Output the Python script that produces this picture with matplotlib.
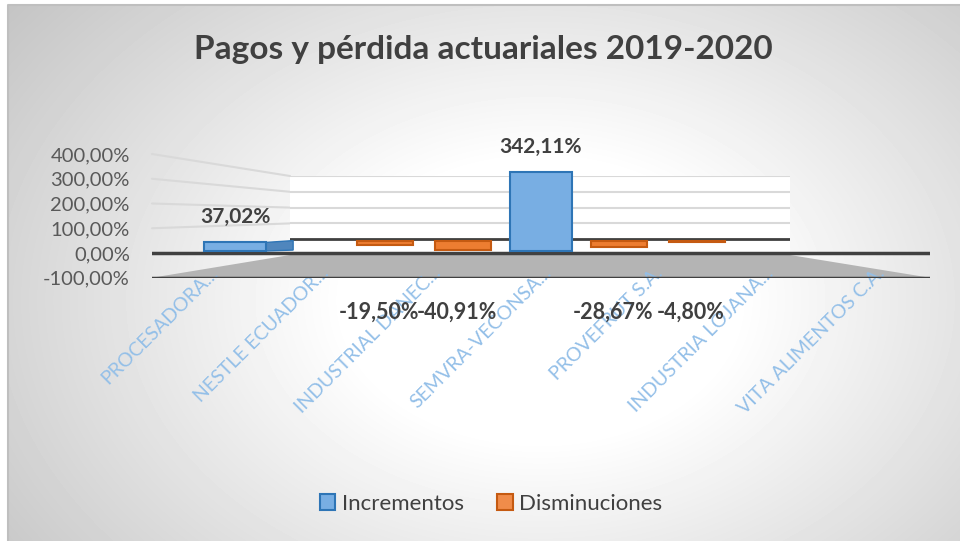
import numpy as np
import matplotlib
matplotlib.use("Agg")
import matplotlib.pyplot as plt
from matplotlib.patches import Patch, Polygon, ConnectionPatch

plt.rcParams["font.family"] = ["Lato", "DejaVu Sans"]

# datos
categorias = ["PROCESADORA...", "NESTLE ECUADOR...", "INDUSTRIAL DANEC...",
              "SEMVRA-VECONSA...", "PROVEFRUT S.A.", "INDUSTRIA LOJANA...",
              "VITA ALIMENTOS C.A."]
incrementos = [37.02, np.nan, np.nan, 342.11, np.nan, np.nan, np.nan]
disminuciones = [np.nan, -19.50, -40.91, np.nan, -28.67, -4.80, np.nan]
ticks_y = [-100, 0, 100, 200, 300, 400]

W, H = 960, 541
fig = plt.figure(figsize=(W / 100, H / 100), dpi=100)


def ejes_px(l, t, r, b, **kw):
    return fig.add_axes([l / W, 1 - b / H, (r - l) / W, (b - t) / H], **kw)


def fmt(v):
    return f"{v:,.2f}%".replace(",", " ").replace(".", ",").replace(" ", ".")


# fondo con degradado radial
ax_bg = ejes_px(0, 0, W, H)
ax_bg.set_zorder(-3)
ax_bg.set_xlim(0, W)
ax_bg.set_ylim(H, 0)
ax_bg.axis("off")
xx, yy = np.meshgrid(np.arange(W), np.arange(H))
d = np.sqrt(((xx - 540) / 560) ** 2 + ((yy - 300) / 400) ** 2)
gris = 1 - 0.23 * np.clip((d - 0.35) / 0.85, 0, 1)
gris[:5, :] = 1
gris[:, :8] = 1
ax_bg.imshow(gris, cmap="gray", vmin=0, vmax=1, extent=(0, W, H, 0), aspect="auto")
ax_bg.plot([8, 8, W], [H, 5, 5], color="#bfbfbf", lw=1.5)

fig.text(483 / W, 1 - 49 / H, "Pagos y pérdida actuariales 2019-2020",
         ha="center", va="center", fontsize=24, fontweight="bold", color="#404040")

# pared del fondo
ax_back = ejes_px(290, 176, 790, 255)
ax_back.set_ylim(-100, 400)
ax_back.set_xlim(0, 1)
ax_back.set_facecolor("white")
for s in ax_back.spines.values():
    s.set_visible(False)
ax_back.set_xticks([])
ax_back.set_yticks([])
for v in ticks_y[2:]:
    ax_back.axhline(v, color="#d9d9d9", lw=1.5)
ax_back.axhline(0, color="#404040", lw=2)

# eje frontal
ax_front = ejes_px(152, 154, 930, 277.75)
ax_front.set_ylim(-100, 400)
ax_front.set_xlim(-0.5, 6.5)
ax_front.patch.set_visible(False)
for s in ax_front.spines.values():
    s.set_visible(False)
ax_front.set_xticks([])
ax_front.set_yticks(ticks_y, [fmt(v) for v in ticks_y])
ax_front.tick_params(axis="y", length=0, pad=16, labelsize=14.5, labelcolor="#595959")

# piso (trapecio entre -100 frontal y -100 del fondo)
inv = fig.transFigure.inverted()
esquinas = [ax_front.transAxes.transform((0, 0)), ax_front.transAxes.transform((1, 0)),
            ax_back.transAxes.transform((1, 0)), ax_back.transAxes.transform((0, 0))]
fig.add_artist(Polygon(inv.transform(esquinas), closed=True, facecolor="#b4b4b4",
                       edgecolor="none", zorder=-2))

# lineas de la pared lateral
for v in ticks_y[2:]:
    fig.add_artist(ConnectionPatch((0, v), (0, v),
                                   coordsA=ax_front.get_yaxis_transform(),
                                   coordsB=ax_back.get_yaxis_transform(),
                                   color="#d9d9d9", lw=1.5, zorder=-1))

ax_front.axhline(0, color="#404040", lw=2.5, zorder=3)
ax_front.axhline(-100, color="#404040", lw=2.5, zorder=3)

for i, cat in enumerate(categorias):
    ax_front.text(i + 0.07, -70, cat, rotation=45, rotation_mode="anchor",
                  ha="right", va="center", fontsize=14, color="#93bfe8",
                  clip_on=False, zorder=2)

# barras: la serie azul va delante, la naranja detras (perspectiva centrada en i=3)
x = np.arange(len(categorias))

ax_azul = ejes_px(152, 251 - 400 * 0.231, 930, 251 + 100 * 0.231)
ax_azul.set_ylim(-100, 400)
ax_azul.set_xlim(3 - 389 / 102, 3 + 389 / 102)
ax_azul.axis("off")
ax_azul.bar(x, incrementos, width=0.6, color="#78aee3",
            edgecolor="#2e75b6", lw=1.5, zorder=4)
for i, v in enumerate(incrementos):
    if np.isnan(v):
        continue
    lado = 0.09 * (3 - i)
    if lado:
        borde = i + 0.3
        ax_azul.add_patch(Polygon([(borde, 0), (borde, v), (borde + lado, v + 8),
                                   (borde + lado, 4)], closed=True,
                                  facecolor="#4f86bd", edgecolor="#2e75b6", lw=1, zorder=3))
    ax_azul.annotate(fmt(v), (i, v), xytext=(0, 11), textcoords="offset points",
                     ha="center", va="bottom", fontsize=15, fontweight="bold",
                     color="#404040")

ax_nar = ejes_px(152, 241 - 400 * 0.21, 930, 241 + 100 * 0.21)
ax_nar.set_ylim(-100, 400)
ax_nar.set_xlim(3 - 389 / 78, 3 + 389 / 78)
ax_nar.axis("off")
ax_nar.bar(x, disminuciones, width=0.72, color="#ed7d31",
           edgecolor="#c55a11", lw=1.5, zorder=4)
for i, v in enumerate(disminuciones):
    if np.isnan(v):
        continue
    ax_nar.text(i - 0.08, -340, fmt(v), ha="center", va="center", fontsize=15.5,
                fontweight="bold", color="#404040", clip_on=False, zorder=6)

handles = [Patch(facecolor="#78aee3", edgecolor="#2e75b6", lw=1.5, label="Incrementos"),
           Patch(facecolor="#f08c4a", edgecolor="#c55a11", lw=1.5, label="Disminuciones")]
fig.legend(handles=handles, loc="center", bbox_to_anchor=(491 / W, 1 - 504 / H), ncol=2,
           frameon=False, fontsize=16, handlelength=0.7, handleheight=0.7,
           handletextpad=0.3, columnspacing=1.5, labelcolor="#404040")

fig.savefig("out.png", dpi=100)
